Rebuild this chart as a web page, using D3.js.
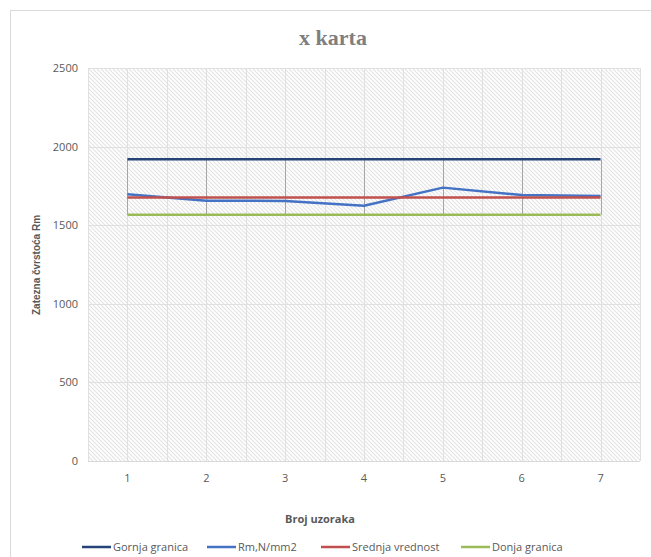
<!DOCTYPE html>
<html>
<head>
<meta charset="utf-8">
<script src="https://cdn.jsdelivr.net/npm/d3@7"></script>
<style>
  body { margin: 0; background: #fff; }
  svg { display: block; }
</style>
</head>
<body>
<div id="chart"></div>
<script>
// Sample numbers and control-chart series
const samples = [1, 2, 3, 4, 5, 6, 7];
const gornjaGranica = [1919, 1919, 1919, 1919, 1919, 1919, 1919];
const rmValues = [1697, 1656, 1654, 1624, 1739, 1692, 1686];
const srednjaVrednost = [1677, 1677, 1677, 1677, 1677, 1677, 1677];
const donjaGranica = [1567, 1567, 1567, 1567, 1567, 1567, 1567];
const yTicks = [0, 500, 1000, 1500, 2000, 2500];

const seriesList = [
  { name: "Gornja granica", values: gornjaGranica, color: "#264478" },
  { name: "Rm,N/mm2", values: rmValues, color: "#4472C4" },
  { name: "Srednja vrednost", values: srednjaVrednost, color: "#C0504D" },
  { name: "Donja granica", values: donjaGranica, color: "#9BBB59" }
];

const W = 651, H = 557;
const plot = { left: 88, right: 640, top: 68, bottom: 461 };
const labelFont = "'Open Sans', 'Liberation Sans', sans-serif";

const svg = d3.select("#chart").append("svg")
  .attr("width", W).attr("height", H);

// Chart frame
svg.append("rect")
  .attr("x", 10.5).attr("y", 10.5)
  .attr("width", W).attr("height", H)
  .attr("fill", "#fff").attr("stroke", "#d9d9d9");

// Diagonal hatch fill for the plot area
const defs = svg.append("defs");
const pat = defs.append("pattern")
  .attr("id", "hatch").attr("patternUnits", "userSpaceOnUse")
  .attr("width", 4).attr("height", 4);
pat.append("rect").attr("width", 4).attr("height", 4).attr("fill", "#fff");
pat.append("path")
  .attr("d", "M-1,-1 L5,5 M-1,3 L1,5 M3,-1 L5,1")
  .attr("stroke", "#e3e3e3").attr("stroke-width", 1.1);

const x = d3.scaleBand().domain(samples).range([plot.left, plot.right]).padding(0);
const y = d3.scaleLinear().domain([0, 2500]).range([plot.bottom, plot.top]);
const cx = d => x(d) + x.bandwidth() / 2;

svg.append("rect")
  .attr("x", plot.left).attr("y", plot.top)
  .attr("width", plot.right - plot.left).attr("height", plot.bottom - plot.top)
  .attr("fill", "url(#hatch)");

// Gridlines: horizontal at each tick, vertical at category edges and centers
const grid = svg.append("g").attr("stroke", "#e0e0e0").attr("stroke-width", 1);
yTicks.filter(t => t > 0).forEach(t => {
  grid.append("line")
    .attr("x1", plot.left).attr("x2", plot.right)
    .attr("y1", Math.round(y(t)) + 0.5).attr("y2", Math.round(y(t)) + 0.5);
});
const vx = [];
samples.forEach(s => { vx.push(x(s)); vx.push(cx(s)); });
vx.push(plot.right);
vx.forEach(v => {
  grid.append("line")
    .attr("x1", Math.round(v) + 0.5).attr("x2", Math.round(v) + 0.5)
    .attr("y1", plot.top).attr("y2", plot.bottom);
});

// Category axis line
svg.append("line")
  .attr("x1", plot.left).attr("x2", plot.right)
  .attr("y1", plot.bottom + 0.5).attr("y2", plot.bottom + 0.5)
  .attr("stroke", "#d9d9d9");

// Axes
const yAxis = svg.append("g")
  .attr("transform", `translate(${plot.left - 10},0)`)
  .call(d3.axisLeft(y).tickValues(yTicks).tickSize(0).tickPadding(0).tickFormat(d3.format("d")));
yAxis.select(".domain").remove();
yAxis.selectAll("text")
  .attr("font-family", labelFont)
  .attr("font-size", 11).attr("fill", "#595959");

const xAxis = svg.append("g")
  .attr("transform", `translate(0,${plot.bottom})`)
  .call(d3.axisBottom(x).tickSize(0).tickPadding(13));
xAxis.select(".domain").remove();
xAxis.selectAll("text")
  .attr("font-family", labelFont)
  .attr("font-size", 11).attr("fill", "#595959");

// High-low lines between upper and lower limit
const hl = svg.append("g").attr("stroke", "#a6a6a6").attr("stroke-width", 1);
samples.forEach((s, i) => {
  hl.append("line")
    .attr("x1", Math.round(cx(s)) + 0.5).attr("x2", Math.round(cx(s)) + 0.5)
    .attr("y1", y(gornjaGranica[i])).attr("y2", y(donjaGranica[i]));
});

// Series lines
const line = d3.line().x((d, i) => cx(samples[i])).y(d => y(d));
seriesList.forEach(s => {
  svg.append("path")
    .datum(s.values)
    .attr("d", line)
    .attr("fill", "none")
    .attr("stroke", s.color)
    .attr("stroke-width", 2.5)
    .attr("stroke-linejoin", "round");
});

// Title
svg.append("text")
  .attr("x", 333).attr("y", 45)
  .attr("text-anchor", "middle")
  .attr("font-family", "'Liberation Serif', 'DejaVu Serif', serif")
  .attr("font-weight", "bold").attr("font-size", 22)
  .attr("fill", "#7f7f7f")
  .text("x karta");

// Axis titles
svg.append("text")
  .attr("transform", `translate(40,265) rotate(-90)`)
  .attr("text-anchor", "middle")
  .attr("font-family", "'Liberation Sans Narrow', 'Liberation Sans', sans-serif")
  .attr("font-weight", "bold").attr("font-size", 10)
  .attr("fill", "#595959")
  .text("Zatezna čvrstoća Rm");

svg.append("text")
  .attr("x", 320).attr("y", 523)
  .attr("text-anchor", "middle")
  .attr("font-family", labelFont)
  .attr("font-weight", "bold").attr("font-size", 11)
  .attr("fill", "#595959")
  .text("Broj uzoraka");

// Legend
const legendX = [82, 207, 321, 461];
const legend = svg.append("g");
seriesList.forEach((s, i) => {
  const g = legend.append("g").attr("transform", `translate(${legendX[i]},547)`);
  g.append("line").attr("x1", 0).attr("x2", 29).attr("y1", 0).attr("y2", 0)
    .attr("stroke", s.color).attr("stroke-width", 2.5);
  g.append("text").attr("x", 31).attr("y", 4)
    .attr("font-family", labelFont)
    .attr("font-size", 11).attr("fill", "#595959")
    .text(s.name);
});
</script>
</body>
</html>
